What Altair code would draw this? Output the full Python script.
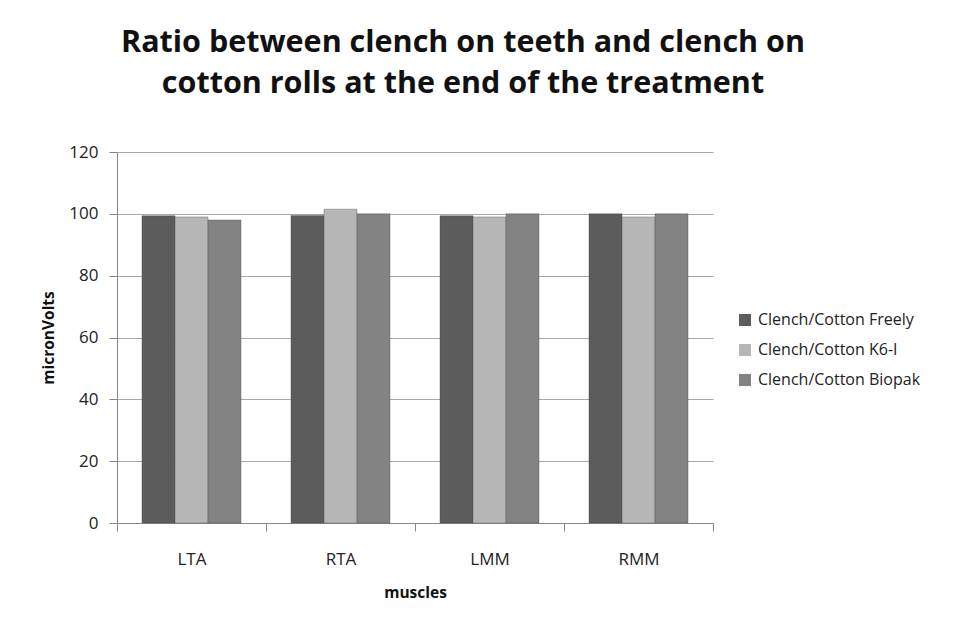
import altair as alt
import pandas as pd

muscles = ["LTA", "RTA", "LMM", "RMM"]
series = ["Clench/Cotton Freely", "Clench/Cotton K6-I", "Clench/Cotton Biopak"]
freely = [99.4, 99.5, 99.4, 100.0]
k6i = [99.0, 101.5, 99.0, 99.0]
biopak = [98.0, 100.0, 100.0, 100.0]
colors = ["#5c5c5c", "#b6b6b6", "#838383"]

rows = []
for s, vals in zip(series, [freely, k6i, biopak]):
    for m, v in zip(muscles, vals):
        rows.append({"muscle": m, "series": s, "value": v})
df = pd.DataFrame(rows)

font = "Open Sans"

chart = alt.Chart(df).mark_bar(stroke="#444444", strokeWidth=0.6, strokeOpacity=0.6).encode(
    x=alt.X("muscle:N", sort=muscles, title="muscles",
            scale=alt.Scale(paddingInner=0, paddingOuter=0),
            axis=alt.Axis(labelAngle=0, tickBand="extent", tickSize=8, labelPadding=20,
                          titlePadding=18, labelFontSize=17, titleFontSize=15.5,
                          titleFontWeight="bold", domainColor="#888888", tickColor="#888888",
                          grid=False,
                          labelColor="#222222", titleColor="#111111", labelFont=font, titleFont=font)),
    xOffset=alt.XOffset("series:N", sort=series,
                        scale=alt.Scale(paddingInner=0, paddingOuter=0.757)),
    y=alt.Y("value:Q", title="micronVolts",
            scale=alt.Scale(domain=[0, 120], nice=False),
            axis=alt.Axis(values=[0, 20, 40, 60, 80, 100, 120], tickSize=8, labelPadding=11,
                          titlePadding=12, labelFontSize=17, titleFontSize=15.5,
                          titleFontWeight="bold", domainColor="#888888", tickColor="#888888",
                          gridColor="#a8a8a8", labelColor="#222222", titleColor="#111111",
                          labelFont=font, titleFont=font)),
    color=alt.Color("series:N", sort=series, title=None,
                    scale=alt.Scale(domain=series, range=colors),
                    legend=alt.Legend(orient="none", legendX=620, legendY=160,
                                      symbolType="square", symbolSize=144, symbolStrokeWidth=0,
                                      labelFontSize=16, labelFont=font, labelColor="#222222",
                                      labelOffset=5, rowPadding=14, labelLimit=300)),
).properties(
    width=596, height=371,
    view=alt.ViewBackground(stroke="white", strokeWidth=0, strokeOpacity=0),
    title=alt.Title(["Ratio between clench on teeth and clench on",
                     "cotton rolls at the end of the treatment"],
                    fontSize=30.5, fontWeight="bold", font=font, color="#111111",
                    anchor="middle", dx=48, offset=44, lineHeight=41),
    padding={"left": 109, "top": 144, "right": 238, "bottom": 99},
    autosize=alt.AutoSizeParams(type="none"),
).configure_view(stroke="transparent", strokeWidth=0).configure(background="white")

chart.save("out.html", embed_options={"renderer": "svg", "actions": False})
